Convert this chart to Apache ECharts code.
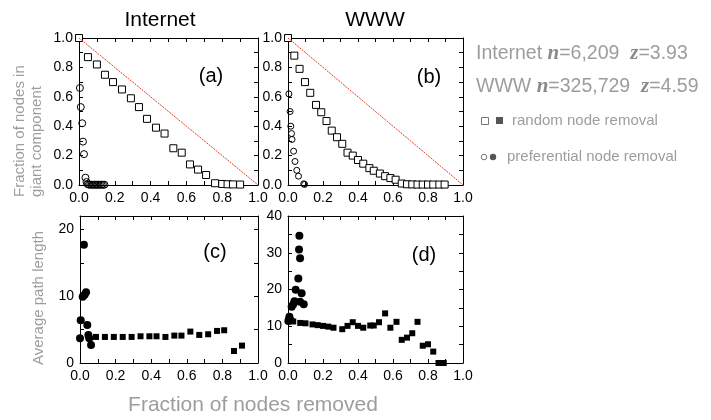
<!DOCTYPE html>
<html><head><meta charset="utf-8">
<script src="https://cdn.jsdelivr.net/npm/echarts@6/dist/echarts.min.js"></script>
<style>html,body{margin:0;padding:0;background:#fff}#c{width:711px;height:420px}</style>
</head><body><div id="c"></div>
<script>
// ---- data ----
// panel (a) Internet, fraction in giant component
const aRandX = [0, 0.05, 0.10, 0.145, 0.19, 0.24, 0.29, 0.335, 0.38, 0.43, 0.478, 0.527, 0.574, 0.62, 0.665, 0.71, 0.76, 0.80, 0.83, 0.86, 0.90];
const aRandY = [1.0, 0.87, 0.82, 0.75, 0.70, 0.65, 0.59, 0.53, 0.45, 0.39, 0.35, 0.25, 0.22, 0.14, 0.105, 0.068, 0.012, 0.007, 0.005, 0.004, 0.003];
const aPrefX = [0, 0.005, 0.01, 0.018, 0.022, 0.028, 0.036, 0.042, 0.048, 0.055, 0.062, 0.07, 0.078, 0.086, 0.094, 0.102, 0.11, 0.118, 0.126, 0.134, 0.142];
const aPrefY = [1.0, 0.66, 0.53, 0.42, 0.295, 0.21, 0.05, 0.02, 0.006, 0.003, 0.002, 0.002, 0.002, 0.002, 0.002, 0.002, 0.002, 0.002, 0.002, 0.002, 0.002];
// panel (b) WWW
const bRandX = [0, 0.036, 0.066, 0.097, 0.127, 0.16, 0.19, 0.22, 0.25, 0.28, 0.31, 0.34, 0.37, 0.40, 0.43, 0.465, 0.49, 0.525, 0.555, 0.585, 0.615, 0.65, 0.68, 0.71, 0.74, 0.77, 0.80, 0.83, 0.865, 0.895];
const bRandY = [1.0, 0.88, 0.79, 0.70, 0.627, 0.545, 0.495, 0.435, 0.37, 0.325, 0.28, 0.22, 0.20, 0.17, 0.145, 0.115, 0.097, 0.078, 0.06, 0.047, 0.036, 0.01, 0.005, 0.004, 0.003, 0.003, 0.003, 0.003, 0.003, 0.003];
const bPrefX = [0, 0.005, 0.012, 0.016, 0.02, 0.023, 0.032, 0.04, 0.05, 0.06, 0.09, 0.095];
const bPrefY = [1.0, 0.62, 0.50, 0.40, 0.35, 0.31, 0.23, 0.16, 0.10, 0.06, 0.008, 0.004];
// panel (c) Internet, average path length
const cRandX = [0.09, 0.14, 0.19, 0.24, 0.29, 0.34, 0.39, 0.43, 0.48, 0.53, 0.57, 0.62, 0.67, 0.72, 0.77, 0.81, 0.865, 0.91];
const cRandY = [3.9, 3.9, 3.9, 3.9, 3.9, 4.0, 4.0, 4.0, 3.9, 4.1, 4.1, 4.7, 4.2, 4.3, 4.8, 4.9, 1.8, 2.6];
const cPrefX = [0.0, 0.004, 0.015, 0.022, 0.026, 0.034, 0.041, 0.047, 0.052, 0.062];
const cPrefY = [3.7, 6.4, 9.9, 17.7, 10.2, 10.6, 5.7, 4.2, 3.7, 2.7];
// panel (d) WWW, average path length
const dRandX = [0, 0.03, 0.07, 0.10, 0.14, 0.17, 0.20, 0.23, 0.26, 0.31, 0.34, 0.37, 0.40, 0.43, 0.47, 0.49, 0.52, 0.555, 0.585, 0.62, 0.65, 0.68, 0.71, 0.74, 0.77, 0.80, 0.83, 0.86, 0.89];
const dRandY = [11.6, 11.3, 10.9, 10.8, 10.5, 10.3, 10.1, 9.9, 9.6, 9.2, 10.1, 11.1, 10.1, 9.6, 10.2, 10.2, 11.1, 13.5, 9.6, 11.2, 6.3, 6.9, 8.1, 11.2, 4.7, 5.1, 3.1, 0, 0];
const dPrefX = [0.002, 0.008, 0.015, 0.021, 0.03, 0.037, 0.044, 0.059, 0.063, 0.065, 0.069, 0.069, 0.078, 0.09];
const dPrefY = [11.4, 12.6, 11.6, 15.3, 16.0, 16.8, 19.9, 23.0, 30.9, 34.6, 28.5, 16.7, 19.0, 16.0];
// reference diagonal
const diagX = [0, 1];
const diagY = [1, 0];
// tick labels
const fracTicks = ['0.0', '0.2', '0.4', '0.6', '0.8', '1.0'];
const cTicks = ['0', '10', '20'];
const dTicks = ['0', '10', '20', '30', '40'];

const zip = (xs, ys) => xs.map((x, i) => [x, ys[i]]);

const FONT = 'Liberation Sans';
const grids = [
  {left: 79, top: 38, width: 179, height: 147},
  {left: 288, top: 38, width: 175, height: 147},
  {left: 80, top: 216, width: 178, height: 147},
  {left: 288, top: 216, width: 175, height: 147}
];
const fracFmt = v => { const s = v.toFixed(1); return fracTicks.includes(s) ? s : ''; };
function ax(gi, pos, min, max, interval, fmt, showLabel) {
  return {
    type: 'value', gridIndex: gi, position: pos, min: min, max: max, interval: interval,
    axisLine: {show: true, onZero: false, lineStyle: {color: '#000', width: 1}},
    axisTick: {show: true, inside: true, length: 4, lineStyle: {color: '#000', width: 1}},
    splitLine: {show: false},
    axisLabel: {show: showLabel, formatter: fmt, color: '#000', fontSize: 14, fontFamily: FONT, margin: 6, hideOverlap: false}
  };
}
const xAxes = [], yAxes = [];
for (let g = 0; g < 4; g++) {
  xAxes.push(ax(g, 'bottom', 0, 1, 0.1, fracFmt, true));
  xAxes.push(ax(g, 'top', 0, 1, 0.1, fracFmt, false));
}
yAxes.push(ax(0, 'left', 0, 1, 0.1, fracFmt, true));
yAxes.push(ax(0, 'right', 0, 1, 0.1, fracFmt, false));
yAxes.push(ax(1, 'left', 0, 1, 0.1, fracFmt, true));
yAxes.push(ax(1, 'right', 0, 1, 0.1, fracFmt, false));
yAxes.push(ax(2, 'left', 0, 22, 5, v => cTicks.includes(String(v)) ? String(v) : '', true));
yAxes.push(ax(2, 'right', 0, 22, 5, v => '', false));
yAxes.push(ax(3, 'left', 0, 40, 5, v => dTicks.includes(String(v)) ? String(v) : '', true));
yAxes.push(ax(3, 'right', 0, 40, 5, v => '', false));

const openSq = {color: '#fff', borderColor: '#000', borderWidth: 1, opacity: 1};
const openCi = {color: 'rgba(255,255,255,0)', borderColor: '#000', borderWidth: 1, opacity: 1};
const fill = {color: '#000', opacity: 1};
const series = [];
function sc(gi, data, symbol, size, style) {
  series.push({type: 'scatter', xAxisIndex: gi * 2, yAxisIndex: gi * 2, data: data, symbol: symbol,
    symbolSize: size, itemStyle: style, clip: false, silent: true, animation: false});
}
function diag(gi) {
  series.push({type: 'line', xAxisIndex: gi * 2, yAxisIndex: gi * 2, data: zip(diagX, diagY), symbol: 'none',
    lineStyle: {color: '#e53b22', width: 1, type: [2, 1]}, silent: true, animation: false});
}
diag(0); diag(1);
sc(0, zip(aPrefX, aPrefY), 'circle', 7, openCi);
sc(0, zip(aRandX, aRandY), 'rect', 7, openSq);
sc(1, zip(bPrefX, bPrefY), 'circle', 6, openCi);
sc(1, zip(bRandX, bRandY), 'rect', 7, openSq);
sc(2, zip(cRandX, cRandY), 'rect', 6, fill);
sc(2, zip(cPrefX, cPrefY), 'circle', 8, fill);
sc(3, zip(dRandX, dRandY), 'rect', 6, fill);
sc(3, zip(dPrefX, dPrefY), 'circle', 8, fill);

const GRAY = '#9d9d9d';
const txt = (x, y, text, size, color, extra) => Object.assign({
  type: 'text', x: x, y: y, silent: true,
  style: Object.assign({text: text, fontFamily: FONT, fontSize: size, fill: color, align: 'center', verticalAlign: 'middle'}, (extra && extra.style) || {})
}, extra ? {rotation: extra.rotation || 0} : {});
const serif = {fontFamily: 'Liberation Serif', fontStyle: 'italic', fontWeight: 'bold', fontSize: 21, fill: '#8a8a8a'};
const graphic = [
  txt(160, 20, 'Internet', 21, '#000'),
  txt(375, 20, 'WWW', 21, '#000'),
  txt(211, 76, '(a)', 20, '#000'),
  txt(429, 77, '(b)', 20, '#000'),
  txt(215, 252, '(c)', 20, '#000'),
  txt(424, 255, '(d)', 20, '#000'),
  txt(20, 197, 'Fraction of nodes in', 15, GRAY, {rotation: Math.PI / 2, style: {align: 'left'}}),
  txt(37, 197, 'giant component', 15, GRAY, {rotation: Math.PI / 2, style: {align: 'left'}}),
  txt(39, 298, 'Average path length', 15, GRAY, {rotation: Math.PI / 2}),
  txt(253, 405, 'Fraction of nodes removed', 21, GRAY),
  {type: 'text', x: 476, y: 54, silent: true, style: {
    text: 'Internet {i|n}=6,209  {i|z}=3.93', fontFamily: FONT, fontSize: 19.5, fill: GRAY, align: 'left', verticalAlign: 'middle',
    rich: {i: serif}}},
  {type: 'text', x: 476, y: 87, silent: true, style: {
    text: 'WWW {i|n}=325,729  {i|z}=4.59', fontFamily: FONT, fontSize: 19.5, fill: GRAY, align: 'left', verticalAlign: 'middle',
    rich: {i: serif}}},
  {type: 'rect', shape: {x: 481.5, y: 117.5, width: 7, height: 7}, style: {fill: '#fff', stroke: '#777', lineWidth: 1}, silent: true},
  {type: 'rect', shape: {x: 496, y: 117, width: 7, height: 7}, style: {fill: '#555'}, silent: true},
  txt(512, 121, 'random node removal', 15, GRAY, {style: {align: 'left'}}),
  {type: 'circle', shape: {cx: 484, cy: 157, r: 2.8}, style: {fill: '#fff', stroke: '#777', lineWidth: 1}, silent: true},
  {type: 'circle', shape: {cx: 493, cy: 157, r: 3.2}, style: {fill: '#555'}, silent: true},
  txt(507, 157, 'preferential node removal', 15, GRAY, {style: {align: 'left'}})
];

const chart = echarts.init(document.getElementById('c'), null, {renderer: 'canvas'});
chart.setOption({
  animation: false,
  backgroundColor: '#fff',
  grid: grids,
  xAxis: xAxes,
  yAxis: yAxes,
  series: series,
  graphic: graphic
});
</script></body></html>
